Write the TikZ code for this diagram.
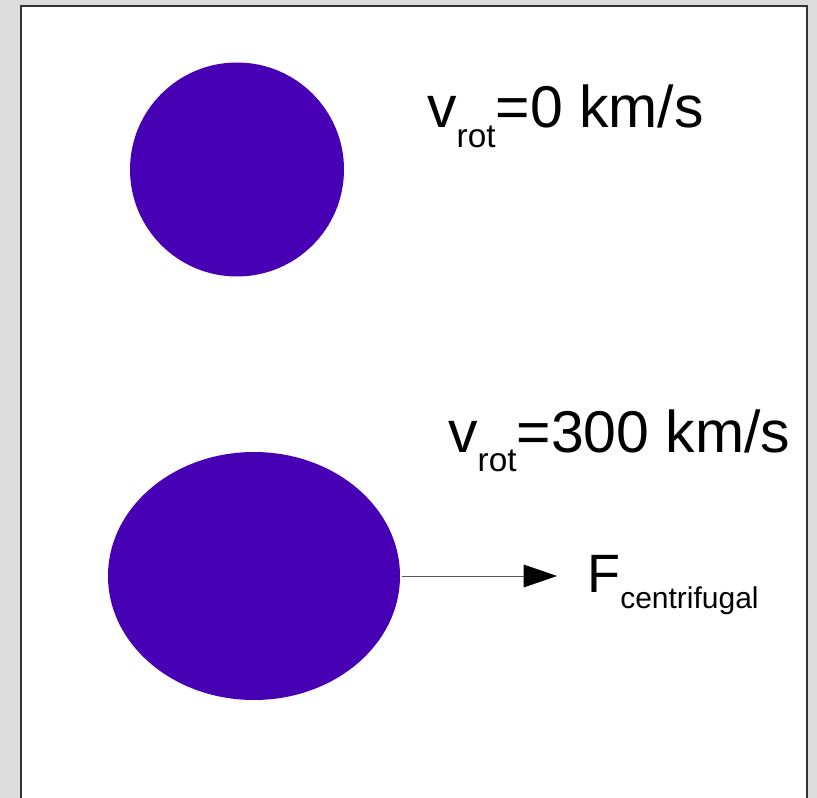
\documentclass[tikz,border=0pt]{standalone}
\usepackage{fontspec}
\setmainfont{Liberation Sans}
\usetikzlibrary{arrows.meta,shapes.geometric}
\definecolor{starblue}{RGB}{72,0,180}
\definecolor{pagegray}{RGB}{220,220,220}
\tikzset{
  star/.style={fill=starblue,inner sep=0pt},
  vtext/.style={anchor=base west,inner sep=0pt,font=\fontsize{44.2}{50}\selectfont},
}
\newcommand{\lowsub}[1]{\raisebox{-14.5pt}{\fontsize{25}{28}\selectfont #1}}
\begin{document}
\begin{tikzpicture}[x=0.75pt,y=-0.75pt]
  \useasboundingbox (0,0) rectangle (817,798);
  \clip (0,0) rectangle (817,798);
  \fill[pagegray] (0,0) rectangle (817,798);
  \draw[fill=white,draw=black!80,line width=1.5pt] (20.5,6) rectangle (807,810);
  \node[star,circle,minimum size=160.5pt] (S) at (237,169.5) {};
  \node[star,ellipse,minimum width=219pt,minimum height=186pt] (R) at (254,576) {};
  \coordinate (T) at (557,576);
  \draw[gray!70!black,line width=0.75pt,-{Triangle[length=25pt,width=17pt,color=black]}] ([xshift=1.5pt]R.east) -- (T);
  \node[vtext] (V0) at (427,128) {v\lowsub{rot}=0 km/s};
  \node[vtext] (V1) at (448,452) {v\lowsub{rot}=300 km/s};
  \node[vtext,font=\fontsize{40.5}{46}\selectfont] (F) at (587,592) {F\raisebox{-12pt}{\fontsize{22.5}{26}\selectfont centrifugal}};
\end{tikzpicture}
\end{document}
